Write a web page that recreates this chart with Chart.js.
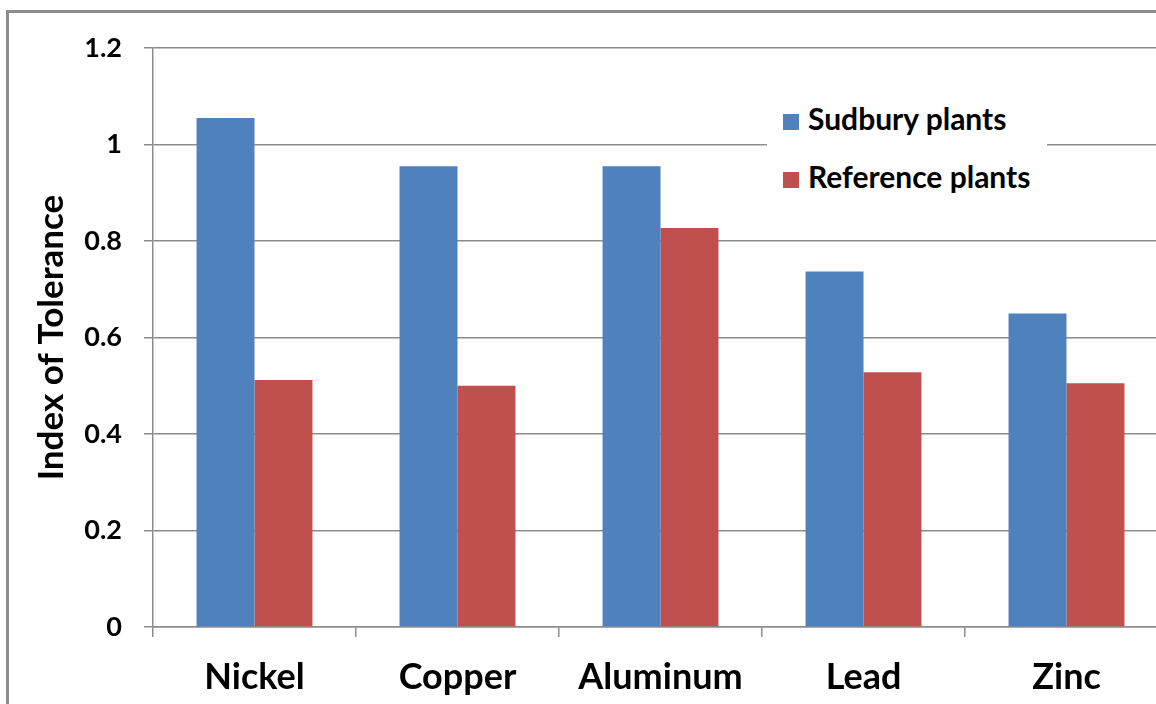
<!DOCTYPE html>
<html>
<head>
<meta charset="utf-8">
<script src="https://cdn.jsdelivr.net/npm/chart.js@4.4.1/dist/chart.umd.min.js"></script>
<style>
  html, body { margin: 0; padding: 0; background: #fff; overflow: hidden; }
  #page { position: relative; width: 1156px; height: 704px; overflow: hidden; }
  #frame { position: absolute; left: 6px; top: 10px; width: 1200px; height: 720px;
           border-left: 3px solid #8c8c8c; border-top: 3px solid #8c8c8c; }
  #chart { position: absolute; left: 0; top: 0; }
  #legend { position: absolute; left: 767px; top: 94px; width: 280px; height: 108px;
            background: #fff; font: bold 30px Lato, sans-serif; color: #000; overflow: hidden; }
  .item { position: absolute; left: 16px; height: 34px; line-height: 34px; white-space: nowrap; }
  .box { display: inline-block; width: 16px; height: 16px; margin-right: 9px; vertical-align: 0px; }
</style>
</head>
<body>
<div id="page">
  <div id="frame"></div>
  <canvas id="chart" width="1200" height="704"></canvas>
  <div id="legend"></div>
</div>
<script>
// values
const categories = ["Nickel", "Copper", "Aluminum", "Lead", "Zinc"];
const sudburyPlants = [1.055, 0.955, 0.955, 0.737, 0.650];
const referencePlants = [0.512, 0.500, 0.827, 0.528, 0.505];
const seriesNames = ["Sudbury plants", "Reference plants"];
const seriesColors = ["#4f81bd", "#c0504d"];
const yMin = 0, yMax = 1.2, yStep = 0.2;

const gridGray = "#8c8c8c";

const ctx = document.getElementById("chart").getContext("2d");
const chart = new Chart(ctx, {
    type: "bar",
    data: {
        labels: categories,
        datasets: [
            { label: seriesNames[0], data: sudburyPlants, backgroundColor: seriesColors[0] },
            { label: seriesNames[1], data: referencePlants, backgroundColor: seriesColors[1] }
        ]
    },
    options: {
        responsive: false,
        animation: false,
        // plot runs past the right edge of the page, like the cropped original
        layout: { padding: { left: 0, top: 48, right: 32, bottom: 0 } },
        datasets: { bar: { barPercentage: 1, categoryPercentage: 0.571, borderWidth: 0 } },
        plugins: { legend: { display: false }, tooltip: { enabled: false } },
        scales: {
            x: {
                offset: true,
                grid: { display: true, drawOnChartArea: false, tickLength: 10, color: gridGray, lineWidth: 1.5, offset: true },
                border: { color: gridGray, width: 1.5 },
                ticks: { color: "#000", padding: 19, font: { family: "Lato", weight: "bold", size: 36 } },
                afterFit: s => { s.height = 77; }
            },
            y: {
                min: yMin, max: yMax,
                grid: { color: gridGray, lineWidth: 1.5, tickLength: 9 },
                border: { color: gridGray, width: 1.5 },
                ticks: {
                    stepSize: yStep, color: "#000", padding: 22,
                    font: { family: "Lato", weight: "bold", size: 27 },
                    callback: v => String(Math.round(v * 10) / 10)
                },
                title: { display: true, text: "Index of Tolerance", color: "#000",
                         padding: { top: 31, bottom: 0 }, font: { family: "Lato", weight: "bold", size: 35 } },
                afterFit: s => { s.width = 153; }
            }
        }
    }
});

// html legend built from the datasets
const legend = document.getElementById("legend");
chart.data.datasets.forEach((ds, i) => {
    const div = document.createElement("div");
    div.className = "item";
    div.style.top = (7 + i * 58) + "px";
    const box = document.createElement("span");
    box.className = "box";
    box.style.background = ds.backgroundColor;
    div.appendChild(box);
    div.appendChild(document.createTextNode(ds.label));
    legend.appendChild(div);
});
</script>
</body>
</html>
